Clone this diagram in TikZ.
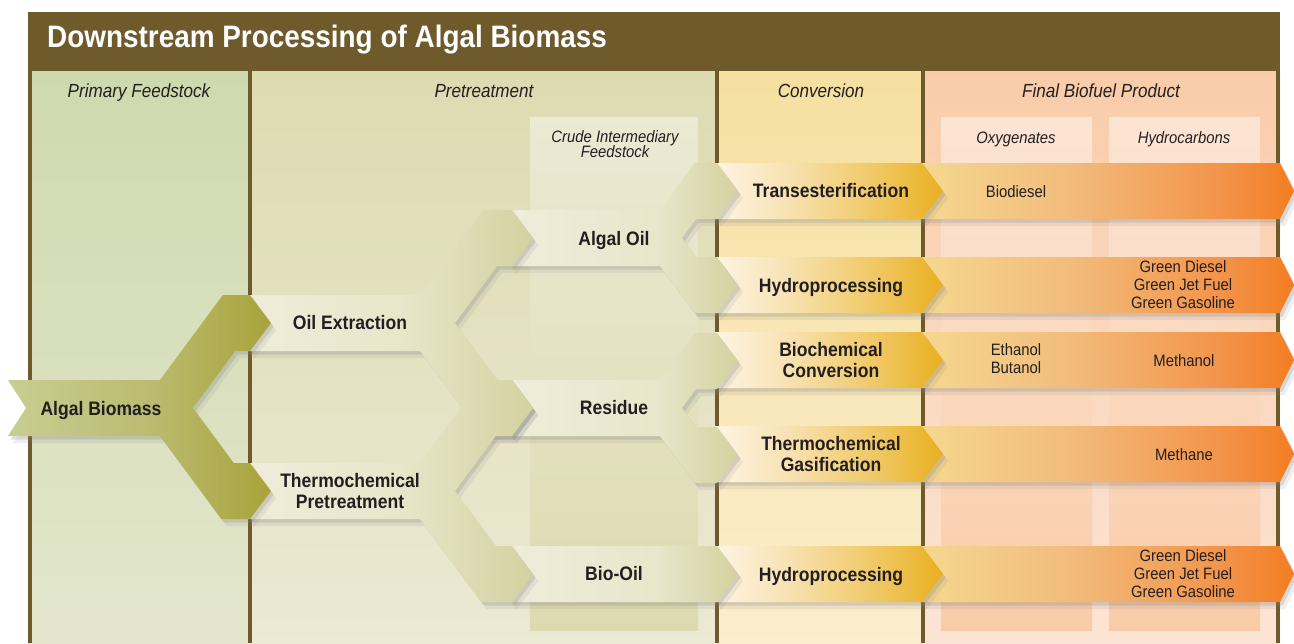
\documentclass[tikz,border=0pt]{standalone}
\usepackage{fontspec}
\setmainfont{Liberation Sans}[FakeStretch=0.9]
\usetikzlibrary{shadows}

\definecolor{hdr}{HTML}{6F5A2C}
\definecolor{txt}{HTML}{231F20}
\definecolor{pfA}{HTML}{CFD9AE}
\definecolor{pfB}{HTML}{E3E6CD}
\definecolor{ptA}{HTML}{DEDAB0}
\definecolor{ptB}{HTML}{ECE9D4}
\definecolor{cvA}{HTML}{F5E0A0}
\definecolor{cvB}{HTML}{FBEDCD}
\definecolor{fpA}{HTML}{F9CCA9}
\definecolor{fpB}{HTML}{FCE4D4}
\definecolor{bmA}{HTML}{C8CE92}
\definecolor{bmM}{HTML}{BBBB70}
\definecolor{bmB}{HTML}{A8A33A}
\definecolor{crA}{HTML}{EFECDA}
\definecolor{crM}{HTML}{E9E6CB}
\definecolor{crB}{HTML}{D4D1A0}
\definecolor{coA}{HTML}{FDF4E4}
\definecolor{coM}{HTML}{F8E3B5}
\definecolor{coN}{HTML}{F0C865}
\definecolor{coB}{HTML}{E9AF20}
\definecolor{prA}{HTML}{F5D88F}
\definecolor{prM}{HTML}{F2BC7C}
\definecolor{prN}{HTML}{F3944A}
\definecolor{prB}{HTML}{F37D22}

\pgfdeclarehorizontalshading{algal}{100bp}{color(0bp)=(bmA); color(25bp)=(bmA); color(52bp)=(bmM); color(75bp)=(bmB); color(100bp)=(bmB)}
\pgfdeclarehorizontalshading{pretreat}{100bp}{color(0bp)=(crA); color(25bp)=(crA); color(51bp)=(crM); color(75bp)=(crB); color(100bp)=(crB)}
\pgfdeclarehorizontalshading{crude}{100bp}{color(0bp)=(crA); color(25bp)=(crA); color(57bp)=(crM); color(75bp)=(crB); color(100bp)=(crB)}
\pgfdeclarehorizontalshading{convert}{100bp}{color(0bp)=(coA); color(25bp)=(coA); color(40bp)=(coM); color(60bp)=(coN); color(75bp)=(coB); color(100bp)=(coB)}
\pgfdeclarehorizontalshading{product}{100bp}{color(0bp)=(prA); color(25bp)=(prA); color(45bp)=(prM); color(65bp)=(prN); color(75bp)=(prB); color(100bp)=(prB)}

\begin{document}
\begin{tikzpicture}[x=1pt,y=-1pt,
	bandshade/.style={drop shadow={shadow xshift=5pt,shadow yshift=-7pt,opacity=.12},drop shadow={shadow xshift=2.5pt,shadow yshift=-3.5pt,opacity=.22}},
	lbl/.style={font=\fontsize{19.5}{21}\selectfont\bfseries,align=center,text=txt,inner sep=0},
	prod/.style={font=\fontsize{16.5}{18}\selectfont,align=center,text=txt,inner sep=0},
	colhead/.style={font=\fontsize{19}{22}\selectfont\itshape,text=txt,inner sep=0,anchor=base},
	subhead/.style={font=\fontsize{16.5}{15.5}\selectfont\itshape,align=center,text=txt,inner sep=0}]
\useasboundingbox[fill=white] (0,0) rectangle (1294,643);
\shade[top color=pfA,bottom color=pfB] (28,70) rectangle (250,643);
\shade[top color=ptA,bottom color=ptB] (250,70) rectangle (717,643);
\shade[top color=ptB,bottom color=ptA] (530,117) rectangle (698,630);
\shade[top color=cvA,bottom color=cvB] (717,70) rectangle (923,643);
\shade[top color=fpA,bottom color=fpB] (923,70) rectangle (1280,643);
\foreach \x in {941,1109}
	\shade[top color=fpB,bottom color=fpA] (\x,117) rectangle ++(151,513);
\foreach \x in {30,250,717,923,1278}
	\draw[hdr,line width=3.5pt] (\x,70) -- (\x,643);
\fill[hdr] (28,12) rectangle (1280,71);
\node[anchor=west,inner sep=0,text=white,font=\fontsize{31}{33}\selectfont\bfseries] (title) at (47,40) {Downstream Processing of Algal Biomass};

\node[colhead] (primary) at (139,97) {Primary Feedstock};
\node[colhead] (pretreatment) at (484,97) {Pretreatment};
\node[colhead] (conversion) at (821,97) {Conversion};
\node[colhead] (final) at (1101,97) {Final Biofuel Product};
\node[subhead] (crude) at (615,144) {Crude Intermediary\\Feedstock};
\node[subhead,anchor=base] (oxy) at (1016,143) {Oxygenates};
\node[subhead,anchor=base] (hydro) at (1184,143) {Hydrocarbons};

\foreach \cy in {191,285,360,454,574}
	\shade[shading=product,bandshade] (920,\cy-28) -- (1280,\cy-28) -- (1294,\cy) -- (1280,\cy+28) -- (920,\cy+28) -- cycle;
\foreach \cy in {191,285,360,454,574}
	\shade[shading=convert,bandshade] (715,\cy-28) -- (922,\cy-28) -- (943,\cy) -- (922,\cy+28) -- (715,\cy+28) -- cycle;
\shade[shading=crude,bandshade] (510,546) -- (717,546) -- (738,574) -- (717,602) -- (510,602) -- cycle;
\foreach \xs/\xo/\xn/\cy/\du/\dd/\xe/\nd/\sh in {510/660/682/238/47/47/717/0/crude,510/660/682/408/47/47/717/0/crude,248/420/455/323/85/85/512/0/pretreat,248/420/455/491/83/83/512/0/pretreat,8/160/193/408/85/83/250/18/algal}
	\shade[shading=\sh,bandshade] ({\xs},{\cy-28}) -- ({\xo},{\cy-28}) -- ++({.74*\du},{-\du}) -- ({\xe},{\cy-\du-28}) -- ++(21,28) -- ++(-21,28)
		-- ({\xn+.74*(\du-28)},{\cy-\du+28}) -- ({\xn},{\cy}) -- ({\xn+.74*(\dd-28)},{\cy+\dd-28})
		-- ({\xe},{\cy+\dd-28}) -- ++(21,28) -- ++(-21,28) -- ({\xo+.74*\dd},{\cy+\dd+28}) -- ({\xo},{\cy+28}) -- ({\xs},{\cy+28}) -- ++({\nd},-28) -- cycle;

\node[lbl] (biomass) at (101,410) {Algal Biomass};
\node[lbl] (oilext) at (350,323) {Oil Extraction};
\node[lbl] (thermopre) at (350,491) {Thermochemical\\Pretreatment};
\node[lbl] (algaloil) at (614,240) {Algal Oil};
\node[lbl] (residue) at (614,408) {Residue};
\node[lbl] (biooil) at (614,574) {Bio-Oil};
\node[lbl] (trans) at (831,191) {Transesterification};
\node[lbl] (hydroA) at (831,287) {Hydroprocessing};
\node[lbl] (biochem) at (831,360) {Biochemical\\Conversion};
\node[lbl] (gasif) at (831,454) {Thermochemical\\Gasification};
\node[lbl] (hydroB) at (831,576) {Hydroprocessing};

\node[prod] (biodiesel) at (1016,192) {Biodiesel};
\node[prod] (greenA) at (1183,285) {Green Diesel\\Green Jet Fuel\\Green Gasoline};
\node[prod] (alcohols) at (1016,359) {Ethanol\\Butanol};
\node[prod] (methanol) at (1184,361) {Methanol};
\node[prod] (methane) at (1184,455) {Methane};
\node[prod] (greenB) at (1183,574) {Green Diesel\\Green Jet Fuel\\Green Gasoline};
\end{tikzpicture}
\end{document}
